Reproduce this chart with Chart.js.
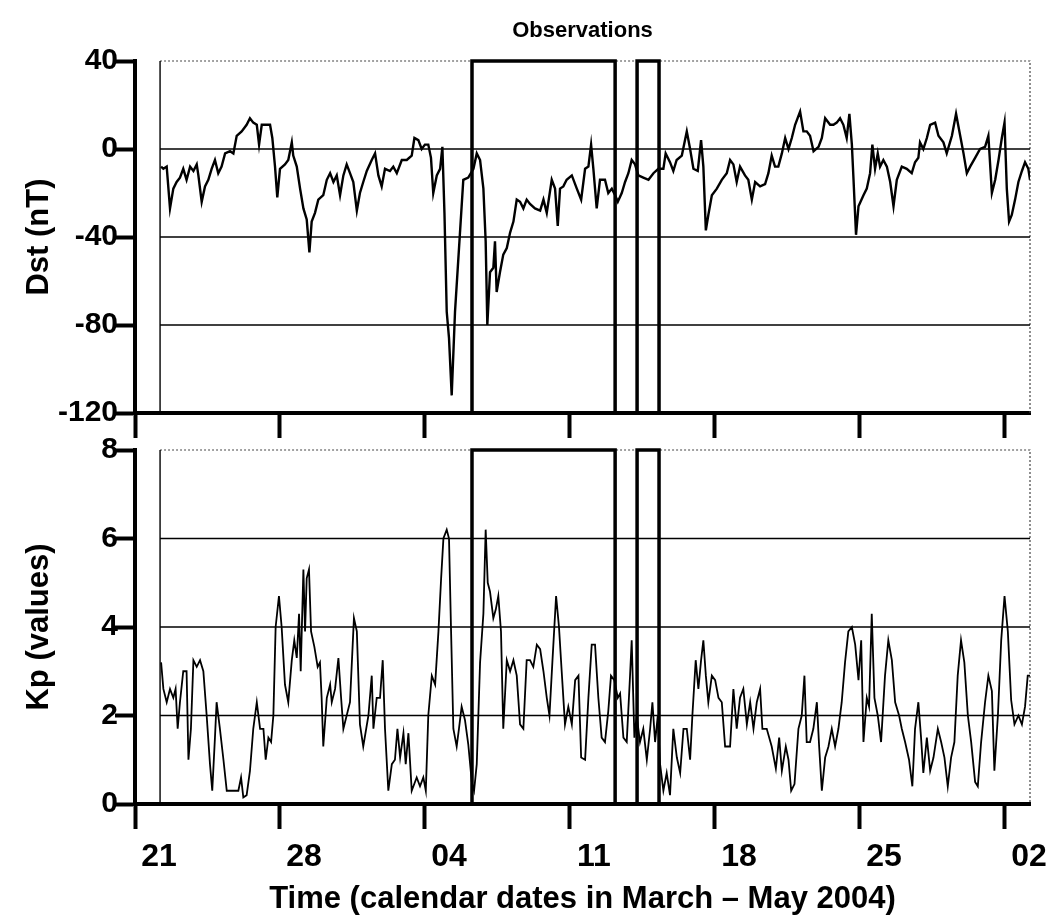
<!DOCTYPE html>
<html>
<head>
<meta charset="utf-8">
<title>Observations</title>
<script src="https://cdn.jsdelivr.net/npm/chart.js@4.4.1/dist/chart.umd.min.js"></script>
<style>
  body { margin: 0; background: #fff; }
  #wrap { position: relative; width: 1047px; height: 920px; }
  canvas { position: absolute; left: 0; }
</style>
</head>
<body>
<div id="wrap">
  <canvas id="dst" width="1047" height="445" style="top:0px"></canvas>
  <canvas id="kp" width="1047" height="490" style="top:430px"></canvas>
</div>
<script>
// x is days since 21 March 2004 00:00
const tickDays = [0, 7, 14, 21, 28, 35, 42];
const tickLabels = ["21", "28", "04", "11", "18", "25", "02"];
const frameDays = [1.21, 43.21];
const boxStarts = [16.27, 24.24];
const boxEnds = [23.18, 25.3];
const dstGrid = [0, -40, -80];
const kpGrid = [2, 4, 6];

const dstDays = [
  1.26, 1.37, 1.53, 1.69, 1.85, 2.01, 2.17, 2.33, 2.49, 2.66, 2.82, 2.98, 3.06, 3.22, 3.38, 3.54,
  3.70, 3.86, 4.02, 4.18, 4.35, 4.59, 4.75, 4.91, 5.15, 5.39, 5.55, 5.71, 5.88, 5.99, 6.12, 6.36,
  6.52, 6.63, 6.76, 6.87, 7.00, 7.24, 7.40, 7.57, 7.64, 7.81, 7.97, 8.13, 8.29, 8.42, 8.53, 8.69,
  8.85, 9.09, 9.26, 9.42, 9.58, 9.74, 9.90, 10.06, 10.22, 10.38, 10.54, 10.71, 10.86, 11.02, 11.19, 11.43,
  11.59, 11.75, 11.91, 12.07, 12.31, 12.47, 12.64, 12.88, 13.12, 13.36, 13.49, 13.68, 13.84, 14.00, 14.16, 14.29,
  14.40, 14.57, 14.73, 14.84, 14.94, 15.05, 15.16, 15.29, 15.45, 15.69, 15.85, 16.09, 16.34, 16.50, 16.66, 16.82,
  16.93, 17.01, 17.14, 17.30, 17.38, 17.46, 17.62, 17.78, 17.95, 18.11, 18.27, 18.43, 18.59, 18.75, 18.91, 19.07,
  19.31, 19.56, 19.72, 19.88, 20.12, 20.28, 20.41, 20.52, 20.68, 20.84, 21.09, 21.33, 21.54, 21.73, 21.89, 22.02,
  22.13, 22.29, 22.45, 22.69, 22.85, 23.02, 23.18, 23.31, 23.50, 23.66, 23.82, 23.98, 24.14, 24.30, 24.54, 24.79,
  25.03, 25.27, 25.51, 25.62, 25.83, 25.99, 26.15, 26.40, 26.64, 26.80, 26.96, 27.17, 27.33, 27.44, 27.56, 27.68,
  27.85, 28.09, 28.33, 28.57, 28.73, 28.89, 29.05, 29.21, 29.45, 29.61, 29.78, 29.94, 30.18, 30.42, 30.58, 30.74,
  30.90, 31.06, 31.23, 31.39, 31.55, 31.71, 31.87, 32.11, 32.27, 32.43, 32.59, 32.76, 33.00, 33.16, 33.32, 33.56,
  33.72, 33.88, 34.04, 34.20, 34.36, 34.49, 34.61, 34.69, 34.81, 34.93, 35.17, 35.33, 35.49, 35.60, 35.73, 35.86,
  35.97, 36.13, 36.30, 36.46, 36.62, 36.78, 37.02, 37.26, 37.50, 37.66, 37.82, 37.90, 38.06, 38.23, 38.39, 38.63,
  38.79, 39.03, 39.19, 39.44, 39.64, 39.84, 40.00, 40.16, 40.32, 40.56, 40.80, 41.04, 41.20, 41.37, 41.53, 41.69,
  41.85, 41.98, 42.09, 42.20, 42.33, 42.49, 42.65, 42.82, 42.97, 43.13, 43.21
];
const dstValues = [
  -8, -9, -8, -27, -18, -15, -13, -9, -14, -8, -10, -7, -12, -24, -17, -14,
  -9, -5, -11, -8, -2, -1, -2, 6, 8, 11, 14, 12, 11, 2, 11, 11,
  11, 5, -8, -22, -9, -7, -5, 3, -3, -8, -18, -27, -32, -47, -33, -29,
  -23, -21, -14, -11, -15, -12, -21, -12, -7, -11, -15, -28, -20, -15, -10, -5,
  -2, -12, -17, -9, -10, -8, -11, -5, -5, -3, 5, 4, 0, 2, 2, -4,
  -20, -12, -9, 1, -29, -74, -86, -112, -74, -38, -14, -13, -9, -2, -5, -18,
  -42, -80, -56, -54, -42, -65, -56, -48, -45, -38, -33, -23, -24, -27, -23, -25,
  -27, -28, -23, -29, -14, -18, -35, -18, -17, -14, -12, -18, -23, -9, -8, 2,
  -9, -27, -14, -14, -20, -18, -21, -24, -20, -15, -11, -5, -7, -12, -13, -14,
  -11, -9, -9, -2, -6, -10, -5, -3, 8, 0, -9, -10, 4, -8, -37, -30,
  -21, -18, -14, -11, -5, -7, -15, -8, -12, -14, -23, -15, -17, -16, -11, -3,
  -8, -8, -2, 5, 0, 5, 11, 17, 8, 8, 6, -1, 1, 5, 14, 11,
  11, 12, 14, 11, 5, 16, 2, -14, -39, -26, -21, -18, -11, 2, -9, -2,
  -8, -5, -8, -15, -26, -14, -8, -9, -11, -6, -4, 3, 0, 5, 11, 12,
  6, 3, -2, 6, 16, 6, -2, -11, -8, -4, 0, 1, 6, -20, -14, -5,
  5, 12, -18, -33, -30, -23, -15, -10, -6, -9, -14
];

const kpDays = [
  1.26, 1.37, 1.53, 1.69, 1.85, 1.96, 2.06, 2.17, 2.33, 2.49, 2.58, 2.70, 2.82, 2.98, 3.14, 3.30,
  3.46, 3.62, 3.73, 3.86, 3.94, 4.10, 4.27, 4.43, 4.75, 4.99, 5.12, 5.23, 5.39, 5.55, 5.71, 5.88,
  6.04, 6.20, 6.31, 6.44, 6.57, 6.68, 6.79, 6.95, 7.08, 7.24, 7.40, 7.57, 7.69, 7.81, 7.92, 8.00,
  8.13, 8.21, 8.29, 8.40, 8.50, 8.66, 8.82, 8.93, 9.01, 9.09, 9.26, 9.42, 9.50, 9.66, 9.82, 9.95,
  10.06, 10.22, 10.38, 10.57, 10.71, 10.86, 11.02, 11.27, 11.43, 11.51, 11.67, 11.83, 11.96, 12.07, 12.23, 12.40,
  12.55, 12.67, 12.80, 12.96, 13.07, 13.20, 13.36, 13.60, 13.76, 13.92, 14.04, 14.16, 14.33, 14.49, 14.65, 14.78,
  14.89, 15.05, 15.16, 15.26, 15.37, 15.53, 15.64, 15.77, 15.93, 16.09, 16.26, 16.37, 16.50, 16.66, 16.82, 16.93,
  17.03, 17.14, 17.30, 17.42, 17.54, 17.67, 17.78, 17.95, 18.11, 18.27, 18.43, 18.59, 18.75, 18.91, 19.07, 19.23,
  19.40, 19.56, 19.72, 19.88, 20.01, 20.15, 20.33, 20.47, 20.60, 20.76, 20.92, 21.09, 21.25, 21.41, 21.54, 21.73,
  21.89, 22.05, 22.21, 22.37, 22.53, 22.69, 22.85, 22.98, 23.14, 23.31, 23.42, 23.58, 23.74, 23.90, 23.98, 24.11,
  24.22, 24.38, 24.54, 24.71, 24.87, 24.98, 25.11, 25.24, 25.35, 25.51, 25.67, 25.83, 25.99, 26.16, 26.32, 26.48,
  26.64, 26.80, 26.91, 27.07, 27.20, 27.33, 27.44, 27.56, 27.68, 27.85, 28.01, 28.17, 28.33, 28.49, 28.73, 28.89,
  29.05, 29.21, 29.37, 29.54, 29.70, 29.86, 30.02, 30.18, 30.29, 30.50, 30.74, 30.94, 31.10, 31.23, 31.42, 31.55,
  31.68, 31.84, 32.03, 32.19, 32.32, 32.43, 32.59, 32.75, 32.92, 33.03, 33.16, 33.32, 33.48, 33.64, 33.80, 33.96,
  34.12, 34.28, 34.44, 34.61, 34.77, 34.93, 35.06, 35.17, 35.33, 35.44, 35.57, 35.70, 35.86, 36.02, 36.21, 36.37,
  36.54, 36.70, 36.89, 37.02, 37.18, 37.37, 37.53, 37.66, 37.82, 37.95, 38.06, 38.23, 38.39, 38.55, 38.76, 38.92,
  39.08, 39.24, 39.40, 39.56, 39.72, 39.88, 40.04, 40.21, 40.37, 40.56, 40.69, 40.85, 41.04, 41.20, 41.37, 41.49,
  41.66, 41.82, 41.98, 42.14, 42.30, 42.46, 42.65, 42.82, 42.97, 43.10, 43.21
];
const kpValues = [
  3.2, 2.6, 2.3, 2.6, 2.4, 2.6, 1.7, 2.3, 3.0, 3.0, 1.0, 1.7, 3.25, 3.1, 3.25, 3.0,
  2.0, 0.9, 0.3, 1.5, 2.3, 1.7, 1.0, 0.3, 0.3, 0.3, 0.6, 0.15, 0.2, 0.75, 1.7, 2.3,
  1.7, 1.7, 1.0, 1.5, 1.4, 2.0, 4.0, 4.7, 4.0, 2.7, 2.3, 3.25, 3.7, 3.3, 4.3, 3.0,
  5.3, 3.9, 5.1, 5.3, 3.9, 3.55, 3.1, 3.2, 2.4, 1.3, 2.4, 2.7, 2.3, 2.6, 3.3, 2.4,
  1.7, 2.0, 2.3, 4.2, 3.9, 1.8, 1.3, 2.0, 2.9, 1.7, 2.4, 2.4, 3.25, 1.7, 0.3, 0.9,
  1.0, 1.7, 1.05, 1.6, 0.9, 1.6, 0.3, 0.6, 0.4, 0.6, 0.3, 2.0, 2.9, 2.7, 3.9, 5.1,
  6.0, 6.2, 6.0, 3.9, 1.7, 1.3, 1.7, 2.2, 1.9, 1.35, 0.5, 0.3, 0.9, 3.2, 4.3, 6.2,
  5.0, 4.8, 4.2, 4.4, 4.7, 3.9, 1.7, 3.25, 3.0, 3.25, 2.9, 1.8, 1.7, 3.25, 3.25, 3.1,
  3.6, 3.5, 3.0, 2.4, 2.0, 3.2, 4.7, 4.0, 3.0, 1.8, 2.2, 1.8, 2.8, 2.9, 1.05, 1.0,
  2.4, 3.6, 3.6, 2.4, 1.5, 1.4, 2.1, 2.9, 2.8, 2.4, 2.5, 1.5, 1.4, 2.9, 3.7, 1.5,
  2.0, 1.4, 1.7, 1.0, 1.7, 2.3, 1.4, 2.0, 0.9, 0.3, 0.7, 0.2, 1.7, 1.05, 0.7, 1.7,
  1.7, 1.0, 2.0, 3.25, 2.6, 3.25, 3.7, 2.9, 2.3, 2.9, 2.8, 2.4, 2.3, 1.3, 1.3, 2.6,
  1.7, 2.4, 2.6, 1.8, 2.3, 1.7, 2.3, 2.6, 1.7, 1.7, 1.3, 0.8, 1.5, 0.75, 1.3, 1.0,
  0.3, 0.45, 1.7, 2.0, 2.9, 1.4, 1.4, 1.7, 2.3, 1.3, 0.3, 1.05, 1.3, 1.7, 1.3, 1.7,
  2.3, 3.2, 3.9, 4.0, 3.6, 2.8, 3.7, 1.4, 2.4, 2.2, 4.3, 2.4, 2.0, 1.4, 2.9, 3.7,
  3.25, 2.3, 2.0, 1.7, 1.4, 1.0, 0.4, 1.7, 2.3, 1.5, 0.7, 1.5, 0.75, 1.05, 1.7, 1.4,
  1.05, 0.4, 1.05, 1.4, 2.9, 3.7, 3.2, 2.0, 1.4, 0.5, 0.4, 1.4, 2.3, 2.9, 2.55, 0.75,
  2.0, 3.7, 4.7, 3.9, 2.35, 1.8, 2.0, 1.8, 2.2, 2.9, 2.9
];

const FONT = "'Liberation Sans', Arial, Helvetica, sans-serif";
Chart.defaults.font.family = FONT;
Chart.defaults.font.weight = "bold";
Chart.defaults.color = "#000";
Chart.defaults.animation = false;

function lineSet(points, width, extra) {
  return Object.assign({
    data: points,
    borderColor: "#000",
    borderWidth: width,
    pointRadius: 0,
    fill: false,
    tension: 0,
    clip: 6
  }, extra || {});
}

function buildDatasets(days, values, yMin, yMax, levels, seriesWidth) {
  const sets = [];
  // highlighted intervals
  boxStarts.forEach((s, i) => {
    sets.push(lineSet([
      { x: s, y: yMin }, { x: s, y: yMax }, { x: boxEnds[i], y: yMax }, { x: boxEnds[i], y: yMin }
    ], 3.5));
  });
  sets.push(lineSet(days.map((d, i) => ({ x: d, y: values[i] })), seriesWidth, { clip: 0 }));
  levels.forEach((v) => {
    sets.push(lineSet([{ x: frameDays[0], y: v }, { x: frameDays[1], y: v }], 1.6));
  });
  // inner frame: solid left edge, dotted top and right edges
  sets.push(lineSet([{ x: frameDays[0], y: yMin }, { x: frameDays[0], y: yMax }], 1.4));
  sets.push(lineSet([
    { x: frameDays[0], y: yMax }, { x: frameDays[1], y: yMax }, { x: frameDays[1], y: yMin }
  ], 1.2, { borderDash: [2, 2], borderColor: "#444" }));
  return sets;
}

function xScale(showLabels, height, title) {
  return {
    type: "linear",
    position: "bottom",
    min: 0,
    max: frameDays[1],
    afterBuildTicks: (s) => { s.ticks = tickDays.map((v) => ({ value: v })); },
    afterFit: (s) => { s.height = height; },
    ticks: {
      display: showLabels,
      font: { size: 32, weight: "bold" },
      color: "#000",
      padding: 9,
      labelOffset: 24,
      maxRotation: 0,
      autoSkip: false,
      callback: (v) => tickLabels[tickDays.indexOf(v)]
    },
    grid: { drawOnChartArea: false, drawTicks: true, tickLength: 25, tickWidth: 4, tickColor: "#000" },
    border: { display: true, color: "#000", width: 4 },
    title: title ? {
      display: true, text: title, color: "#000",
      font: { size: 31, weight: "bold" }, padding: { top: 0, bottom: 2 }
    } : { display: false }
  };
}

function yScale(min, max, step, title) {
  return {
    type: "linear",
    position: "left",
    min: min,
    max: max,
    afterFit: (s) => { s.width = 135; },
    ticks: { stepSize: step, font: { size: 30, weight: "bold" }, color: "#000", padding: -3 },
    grid: { drawOnChartArea: false, drawTicks: true, tickLength: 20, tickWidth: 4, tickColor: "#000" },
    border: { display: true, color: "#000", width: 4 },
    title: {
      display: true, text: title, color: "#000",
      font: { size: 31, weight: "bold" }, padding: { top: 21, bottom: 0 }
    }
  };
}

const commonPlugins = { legend: { display: false }, tooltip: { enabled: false } };

new Chart(document.getElementById("dst"), {
  type: "line",
  data: { datasets: buildDatasets(dstDays, dstValues, -120, 40, dstGrid, 2.4) },
  options: {
    responsive: false,
    devicePixelRatio: 1,
    layout: { padding: { top: 0, right: 17, bottom: 0, left: 0 } },
    plugins: commonPlugins,
    scales: {
      x: xScale(false, 32, null),
      xTop: {
        type: "linear",
        position: "top",
        afterFit: (s) => { s.height = 61; },
        ticks: { display: false },
        grid: { display: false },
        border: { display: false },
        title: {
          display: true, text: "Observations", color: "#000",
          font: { size: 22, weight: "bold" }, padding: { top: 18, bottom: 0 }
        }
      },
      y: yScale(-120, 40, 40, "Dst (nT)")
    }
  }
});

new Chart(document.getElementById("kp"), {
  type: "line",
  data: { datasets: buildDatasets(kpDays, kpValues, 0, 8, kpGrid, 1.8) },
  options: {
    responsive: false,
    devicePixelRatio: 1,
    layout: { padding: { top: 20, right: 17, bottom: 0, left: 0 } },
    plugins: commonPlugins,
    scales: {
      x: xScale(true, 116, "Time (calendar dates in March \u2013 May 2004)"),
      y: yScale(0, 8, 2, "Kp (values)")
    }
  }
});
</script>
</body>
</html>
